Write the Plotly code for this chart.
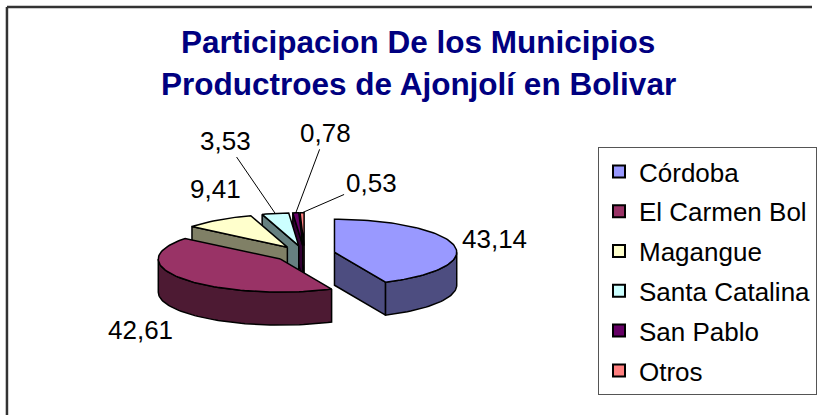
import numpy as np
import plotly.graph_objects as go

# ---------------- data ----------------
categories = ["Córdoba", "El Carmen Bol", "Magangue", "Santa Catalina", "San Pablo", "Otros"]
values = [43.14, 42.61, 9.41, 3.53, 0.78, 0.53]

# ---------------- style ----------------
top_colors = ["#9999FF", "#993366", "#FFFFCC", "#CCFFFF", "#660066", "#FF8080"]
side_colors = ["#4D4D80", "#4D1A33", "#808066", "#668080", "#330033", "#804040"]
title_lines = ["Participacion De los Municipios", "Productroes de Ajonjolí en Bolivar"]

W, H = 817, 415
CX, CY = 306.5, 254.0      # pie centre (px)
A, B = 123.0, 33.0         # ellipse semi-axes (px)
DEPTH = 33.0               # thickness (px)
EXPLODE = 0.25             # explosion as fraction of radius
FONT = "Arial, Liberation Sans, sans-serif"

# label text offsets (px) from the rim point at each slice bisector
label_offsets = [(41, -6), (-44, 51), (-3, -31), (-50, -73), (30, -80), (69, -30)]
label_leader = [False, False, False, True, True, True]

fig = go.Figure()


def rim(tx, ty, th, dz=0.0):
    return tx + A * np.sin(th), ty - B * np.cos(th) + dz


def arc(tx, ty, t0, t1, dz=0.0):
    n = max(2, int(abs(t1 - t0) / (np.pi / 90)) + 2)
    th = np.linspace(t0, t1, n)
    return list(tx + A * np.sin(th)), list(ty - B * np.cos(th) + dz)


def poly(xs, ys, color):
    fig.add_trace(go.Scatter(
        x=xs + [xs[0]], y=ys + [ys[0]], mode="lines", fill="toself",
        fillcolor=color, line=dict(color="black", width=1.5),
        hoverinfo="skip", showlegend=False))


total = float(sum(values))
cum = np.concatenate([[0.0], np.cumsum(values)]) / total * 2 * np.pi
slices = []
for i, v in enumerate(values):
    ts, te = cum[i], cum[i + 1]
    bis = 0.5 * (ts + te)
    tx = CX + EXPLODE * A * np.sin(bis)
    ty = CY - EXPLODE * B * np.cos(bis)
    slices.append(dict(i=i, ts=ts, te=te, bis=bis, tx=tx, ty=ty))

# painter's order: back (cos(bisector) large) to front
order = sorted(slices, key=lambda s: -np.cos(s["bis"]))
for s in order:
    i, ts, te, tx, ty = s["i"], s["ts"], s["te"], s["tx"], s["ty"]
    if np.cos(ts - np.pi / 2) < 0:
        x1, y1 = rim(tx, ty, ts)
        poly([tx, x1, x1, tx], [ty, y1, y1 + DEPTH, ty + DEPTH], side_colors[i])
    if np.cos(te + np.pi / 2) < 0:
        x1, y1 = rim(tx, ty, te)
        poly([tx, x1, x1, tx], [ty, y1, y1 + DEPTH, ty + DEPTH], side_colors[i])
    a0, a1 = max(ts, np.pi / 2), min(te, 3 * np.pi / 2)
    if a1 > a0:
        xt, yt = arc(tx, ty, a0, a1)
        xb, yb = arc(tx, ty, a1, a0, DEPTH)
        poly(xt + xb, yt + yb, side_colors[i])
    xa, ya = arc(tx, ty, ts, te)
    poly([tx] + xa, [ty] + ya, top_colors[i])

# data labels
for s in slices:
    i = s["i"]
    px, py = rim(s["tx"], s["ty"], s["bis"])
    ox, oy = label_offsets[i]
    fig.add_annotation(
        x=px, y=py, xref="x", yref="y", ax=ox, ay=oy, axref="pixel", ayref="pixel",
        text=f"{values[i]:.2f}".replace(".", ","), showarrow=True, arrowhead=0,
        arrowwidth=1, standoff=0,
        arrowcolor="black" if label_leader[i] else "rgba(0,0,0,0)",
        font=dict(family=FONT, size=26, color="black"))

# legend entries
for i, c in enumerate(categories):
    fig.add_trace(go.Scatter(
        x=[None], y=[None], mode="markers", name=c, legendgroup=f"g{i}",
        marker=dict(symbol="square", size=16, color=top_colors[i],
                    line=dict(color="black", width=2.5))))

# title (two lines)
for line, yc in zip(title_lines, [42, 84]):
    fig.add_annotation(
        x=421 / W, y=1 - yc / H, xref="paper", yref="paper", showarrow=False,
        text=f"<b>{line}</b>", xanchor="center", yanchor="middle",
        font=dict(family=FONT, size=31.5, color="#000080"))

fig.update_layout(
    width=W, height=H, margin=dict(l=0, r=0, t=0, b=0),
    paper_bgcolor="white", plot_bgcolor="white",
    xaxis=dict(range=[0, W], visible=False, fixedrange=True),
    yaxis=dict(range=[H, 0], visible=False, fixedrange=True),
    showlegend=True,
    legend=dict(x=602 / W, y=1 - 147 / H, xanchor="left", yanchor="top",
                bordercolor="#555555", borderwidth=1, bgcolor="white",
                font=dict(family=FONT, size=26, color="black"),
                traceorder="grouped", tracegroupgap=3, itemsizing="constant"),
    shapes=[
        dict(type="line", xref="paper", yref="paper", x0=7 / W, x1=7 / W,
             y0=1 - 7 / H, y1=0, line=dict(color="#333333", width=2.5)),
        dict(type="line", xref="paper", yref="paper", x0=7 / W, x1=1,
             y0=1 - 7 / H, y1=1 - 7 / H, line=dict(color="#333333", width=2.5)),
    ],
)

fig.write_html("out.html", config={"displayModeBar": False},
               post_script="document.body.style.margin='0';")
